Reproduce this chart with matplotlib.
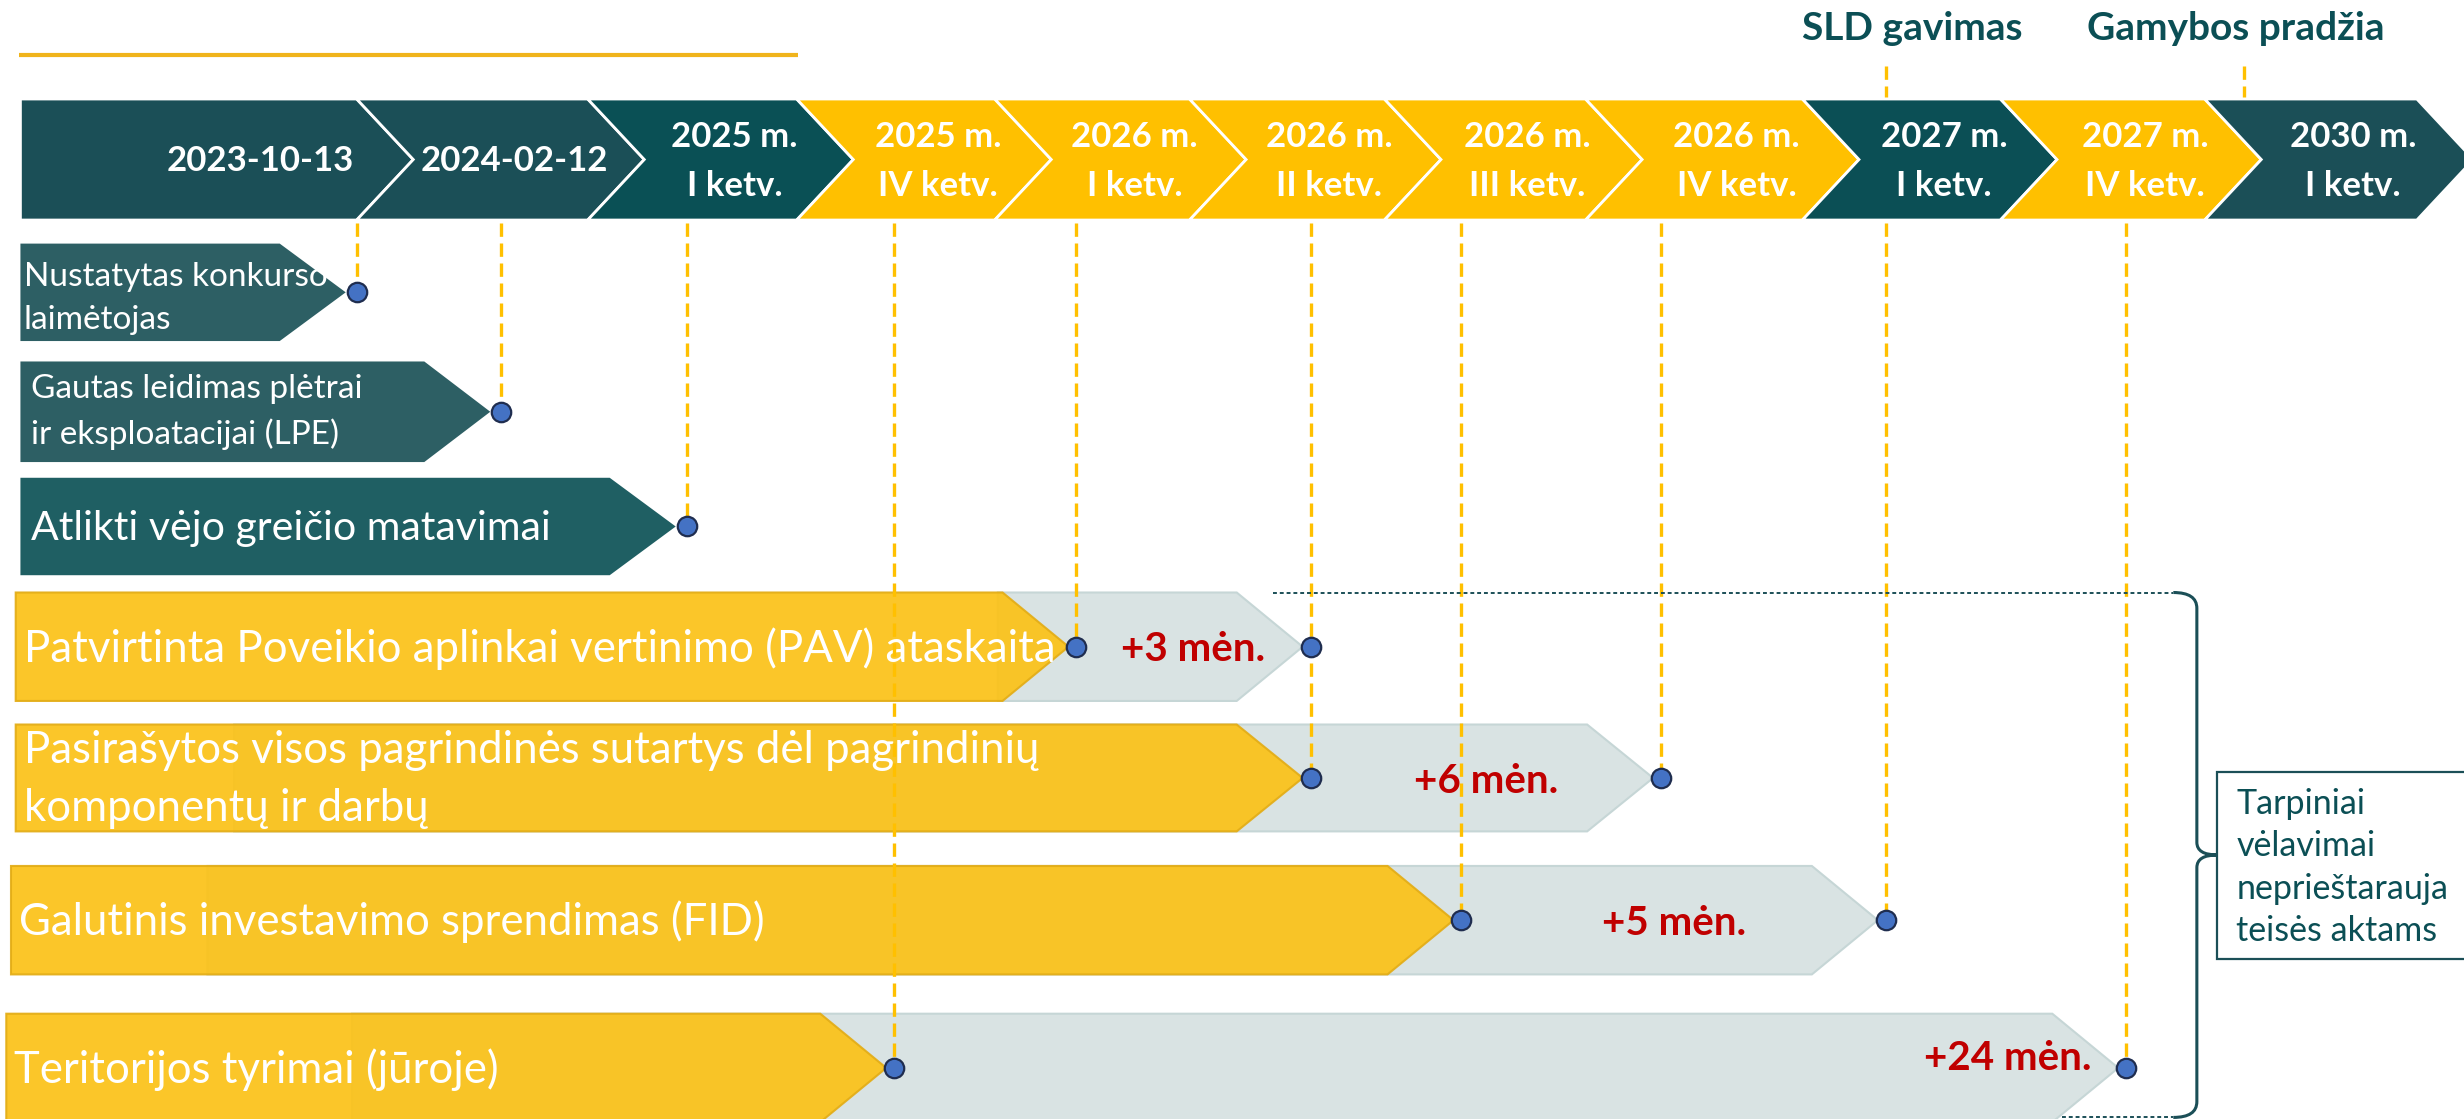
import matplotlib
matplotlib.use('Agg')
import matplotlib.pyplot as plt
from matplotlib.patches import Polygon, Rectangle, PathPatch
from matplotlib.path import Path

plt.rcParams['font.family'] = ['Lato', 'DejaVu Sans']

# --- data ---
header_labels = ['2023-10-13', '2024-02-12', '2025 m.\nI ketv.', '2025 m.\nIV ketv.',
                 '2026 m.\nI ketv.', '2026 m.\nII ketv.', '2026 m.\nIII ketv.', '2026 m.\nIV ketv.',
                 '2027 m.\nI ketv.', '2027 m.\nIV ketv.', '2030 m.\nI ketv.']
header_kind = ['done', 'done', 'now', 'plan', 'plan', 'plan', 'plan', 'plan', 'key', 'plan', 'done']

done_labels = ['Nustatytas konkurso\nlaimėtojas',
               'Gautas leidimas plėtrai\nir eksploatacijai (LPE)',
               'Atlikti vėjo greičio matavimai']
done_col = [0, 1, 2]

task_labels = ['Patvirtinta Poveikio aplinkai vertinimo (PAV) ataskaita',
               'Pasirašytos visos pagrindinės sutartys dėl pagrindinių\nkomponentų ir darbų',
               'Galutinis investavimo sprendimas (FID)',
               'Teritorijos tyrimai (jūroje)']
planned_col = [4, 5, 6, 3]
actual_col = [5, 7, 8, 9]
delay_text = ['+3 mėn.', '+6 mėn.', '+5 mėn.', '+24 mėn.']

top_labels = ['SLD gavimas', 'Gamybos pradžia']
top_col = [8, 10]

note_text = 'Tarpiniai\nvėlavimai\nneprieštarauja\nteisės aktams'

# --- layout (units = pixels of a 1568 x 712 canvas) ---
W, H = 1568, 712
col_x = [227, 319, 437, 569, 685, 834, 930, 1057, 1200, 1353, 1428]
chev_edges = [13, 227, 374, 507, 633, 757, 881, 1009, 1147, 1273, 1403, 1538]
chev_y = (63, 140)
chev_tip = 36
done_y = [(155, 217), (230, 294), (304, 366)]
done_x = [15, 20, 20]
done_size = [24, 24, 29.5]
done_dy = [4, 0, 1]
task_y = [(377, 446), (461, 529), (551, 620), (645, 714)]
yellow_x0 = [10, 10, 7, 4]
grey_x0 = [635, 149, 132, 224]
tip_depth = 42

DARK = '#1b4f57'
kind_color = {'done': '#1b4f57', 'now': '#0a5055', 'key': '#0b4f55', 'plan': '#ffc000'}
YELLOW = '#fbc218'
GREY = '#d9e3e3'
GOLD = '#ffc000'
RED = '#c00000'
TEAL_TXT = '#0b4f55'

fig = plt.figure(figsize=(24.64, 11.19), dpi=100)
ax = fig.add_axes([0, 0, 1, 1])
ax.set_xlim(0, W)
ax.set_ylim(H, 0)
ax.axis('off')


def arrow(x0, x1, y0, y1, depth, notch=0):
    ym = (y0 + y1) / 2
    pts = [(x0, y0), (x1 - depth, y0), (x1, ym), (x1 - depth, y1), (x0, y1)]
    if notch:
        pts.append((x0 + notch, ym))
    return pts


# top orange rule
ax.plot([12, 508], [35, 35], color='#f0b41c', lw=3, solid_capstyle='butt')

# header chevrons
for i, lab in enumerate(header_labels):
    left, right = chev_edges[i], chev_edges[i + 1]
    pts = arrow(left, right + chev_tip, chev_y[0], chev_y[1], chev_tip,
                notch=chev_tip if i > 0 else 0)
    ax.add_patch(Polygon(pts, closed=True, fc=kind_color[header_kind[i]], ec='white', lw=2, zorder=2))
    ym = (chev_y[0] + chev_y[1]) / 2
    if i == 0:
        ax.text(right - 2, ym + 1, lab, ha='right', va='center', color='white',
                fontsize=25, fontweight='bold', zorder=3)
    else:
        ax.text((left + right) / 2 + 27, ym + 1, lab, ha='center', va='center', color='white',
                fontsize=25, fontweight='bold', linespacing=1.65, zorder=3)

markers = []

# completed milestones
for i, lab in enumerate(done_labels):
    y0, y1 = done_y[i]
    cx = col_x[done_col[i]]
    fc = '#2d5f64' if i < 2 else '#1f5f63'
    ax.add_patch(Polygon(arrow(13, cx - 7, y0, y1, tip_depth), closed=True, fc=fc, ec='none', zorder=2))
    ax.text(done_x[i], (y0 + y1) / 2 + done_dy[i], lab, ha='left', va='center', color='white',
            fontsize=done_size[i], linespacing=1.55, zorder=3)
    markers.append((cx, (y0 + y1) / 2))

# delayed milestones: planned (yellow) vs. actual (grey)
for i, lab in enumerate(task_labels):
    y0, y1 = task_y[i]
    ym = (y0 + y1) / 2
    px, axx = col_x[planned_col[i]], col_x[actual_col[i]]
    ax.add_patch(Polygon(arrow(grey_x0[i], axx - 5, y0, y1, tip_depth), closed=True,
                         fc=GREY, ec='#c6d6d6', lw=1.5, zorder=2))
    ax.add_patch(Polygon(arrow(yellow_x0[i], px - 5, y0, y1, tip_depth), closed=True,
                         fc=YELLOW, ec='#e3ad17', lw=1.5, alpha=0.93, zorder=2))
    ax.text(yellow_x0[i] + 5, ym + 1, lab, ha='left', va='center', color='white',
            fontsize=31.5, linespacing=1.5, zorder=3)
    if i < 3:
        ax.text((px + axx) / 2, ym + 2, delay_text[i], ha='center', va='center', color=RED,
                fontsize=29, fontweight='bold', zorder=3)
    else:
        ax.text(axx - 22, ym - 6, delay_text[i], ha='right', va='center', color=RED,
                fontsize=29, fontweight='bold', zorder=3)
    markers.append((px, ym))
    markers.append((axx, ym))

# dashed guide lines from header to the lowest marker of each column
low = {}
for x, y in markers:
    low[x] = max(low.get(x, 0), y)
for x, y in low.items():
    ax.plot([x, x], [chev_y[1] + 2, y], color=GOLD, lw=2.4, ls=(0, (4, 2)), zorder=4)

# milestones above the header
for lab, c, dx in zip(top_labels, top_col, [17, -5]):
    x = col_x[c]
    ax.plot([x, x], [42, chev_y[0] - 1], color=GOLD, lw=2.4, ls=(0, (4, 2)), zorder=4)
    ax.text(x + dx, 18, lab, ha='center', va='center', color=TEAL_TXT,
            fontsize=28, fontweight='bold')

xs, ys = zip(*markers)
ax.plot(xs, ys, 'o', ms=14, mfc='#4472c4', mec='#1f2d4f', mew=1.6, ls='none', zorder=5)

# brace grouping the delayed items
ax.plot([810, 1383], [377, 377], color=DARK, lw=1.4, ls=(0, (2, 1.5)), zorder=4)
ax.plot([1312, 1383], [711, 711], color=DARK, lw=1.4, ls=(0, (2, 1.5)), zorder=4)
bx, by0, by1 = 1398, 377, 711
bm = 544
verts = [(1383, by0), (bx, by0), (bx, by0 + 10),
         (bx, bm - 8),
         (bx, bm), (bx + 13, bm),
         (bx, bm), (bx, bm + 8),
         (bx, by1 - 10),
         (bx, by1), (1383, by1)]
codes = [Path.MOVETO, Path.CURVE3, Path.CURVE3, Path.LINETO,
         Path.CURVE3, Path.CURVE3, Path.CURVE3, Path.CURVE3,
         Path.LINETO, Path.CURVE3, Path.CURVE3]
ax.add_patch(PathPatch(Path(verts, codes), fc='none', ec=DARK, lw=2.2, zorder=4))

ax.add_patch(Rectangle((1411, 491), 170, 119, fc='white', ec=DARK, lw=1.6, zorder=4))
ax.text(1423, 552, note_text, ha='left', va='center', color=TEAL_TXT, fontsize=24.5,
        linespacing=1.4, zorder=5)

fig.savefig('out.png', dpi=100)
